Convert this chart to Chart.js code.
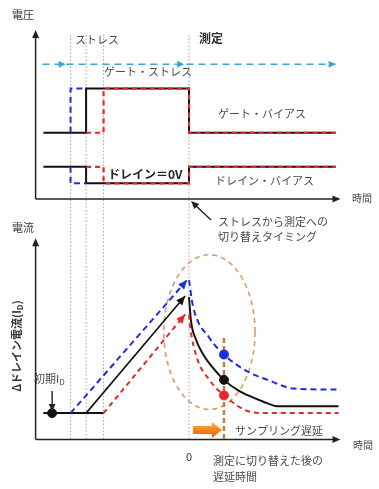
<!DOCTYPE html>
<html>
<head>
<meta charset="utf-8">
<script src="https://cdn.jsdelivr.net/npm/chart.js@4.4.0/dist/chart.umd.min.js"></script>
<style>
  html, body { margin: 0; padding: 0; background: #fff; }
  #wrap { position: relative; width: 379px; height: 489px; }
</style>
</head>
<body>
<div id="wrap"><canvas id="c"></canvas></div>
<script>
/* Stress / measure timing diagram */

// time: 0 = switch from stress to measurement
const stressStart = [-12.2, -10.6, -8.8];     // blue, black, red
const measureT = 0;
const axisT = [-15.8, 15.6];

// upper panel: voltages
const gateBlackT = [-15.0, -10.6, -10.6, 0, 0, 15.1];
const gateBlackV = [6, 6, 10, 10, 6, 6];
const gateBlueT = [-12.2, -12.2, -10.6];
const gateBlueV = [6, 10, 10];
const gateRedT = [-10.6, -8.8, -8.8, 0, 0, 15.1];
const gateRedV = [6, 6, 10, 10, 6, 6];
const drainBlackT = [-15.0, -10.6, -10.6, 0, 0, 15.1];
const drainBlackV = [2.92, 2.92, 1.42, 1.42, 2.92, 2.92];
const drainBlueT = [-12.2, -12.2, -10.6];
const drainBlueV = [2.92, 1.42, 1.42];
const drainRedT = [-10.6, -8.8, -8.8, 0, 0, 15.1];
const drainRedV = [2.92, 2.92, 1.42, 1.42, 2.92, 2.92];
const sweepT = [-15.1, 15.1];
const sweepV = [12.21, 12.21];
const sweepArrowT = [-12.7, -0.5, 15.1];
const voltTop = 15.3;

// lower panel: drain current
const baseT = [-15.0, -8.8];
const baseI = [1, 1];
const initT = [-14.1];
const initI = [1];
const rampBlueT = [-12.2, -0.2];
const rampBlueI = [1, 6.04];
const rampBlackT = [-10.6, -0.4];
const rampBlackI = [1, 5.44];
const rampRedT = [-8.8, -0.4];
const rampRedI = [1, 4.74];
const decayBlueT = [0, 0.4, 2.1, 3.6, 6.1, 8.1, 10.8, 15.4];
const decayBlueI = [6.04, 5.07, 3.85, 3.22, 2.56, 2.26, 1.93, 1.89];
const decayBlackT = [0, 0.2, 0.7, 1.5, 2.4, 3.6, 5.1, 6.1, 7.6, 9.1, 15.4];
const decayBlackI = [5.4, 4.5, 3.8, 3.2, 2.74, 2.26, 1.85, 1.67, 1.44, 1.26, 1.26];
const decayRedT = [0, 0.1, 0.8, 2.1, 3.6, 6.1, 7.8, 15.4];
const decayRedI = [4.74, 4.33, 3.11, 2.26, 1.67, 1.07, 1.0, 1.0];
const sampleT = 3.6;
const sampleI = [3.22, 2.26, 1.67];           // blue, black, red
const currTop = 7.63;
const ellipseC = [2.1, 4.07];
const ellipseR = [4.7, 2.93];

const BLUE = '#1f2de0', RED = '#e8262a', BLACK = '#111', CYAN = '#3fa3d6';
const ORANGE = '#cf7a3c', TAN = '#dc9a68', TXT = '#4a4a4a';
const JP = '"Noto Sans CJK JP", "Noto Sans", sans-serif';

const pts = (xs, ys) => xs.map((x, i) => ({ x, y: ys[i] }));

function line(xs, ys, axis, color, dash, extra) {
  return Object.assign({
    data: pts(xs, ys), yAxisID: axis, borderColor: color, backgroundColor: color,
    borderWidth: 2, borderDash: dash || [], pointRadius: 0, tension: 0, fill: false
  }, extra || {});
}
function dots(xs, ys, color, r) {
  return { data: pts(xs, ys), yAxisID: 'yI', showLine: false, pointRadius: r,
    pointBackgroundColor: color, pointBorderColor: color, borderColor: color };
}

const smooth = { cubicInterpolationMode: 'monotone' };

// listed bottom-to-top, reversed below since Chart.js paints the first dataset last
const layers = [
  line(sweepT, sweepV, 'yV', CYAN, [7, 5], { borderWidth: 1.6 }),
  line(gateBlackT, gateBlackV, 'yV', BLACK),
  line(gateBlueT, gateBlueV, 'yV', BLUE, [6, 4]),
  line(gateRedT, gateRedV, 'yV', RED, [5, 4], { borderWidth: 2.2 }),
  line(drainBlackT, drainBlackV, 'yV', BLACK),
  line(drainBlueT, drainBlueV, 'yV', BLUE, [6, 4]),
  line(drainRedT, drainRedV, 'yV', RED, [5, 4], { borderWidth: 2.2 }),
  line(baseT, baseI, 'yI', BLACK),
  line(rampBlueT, rampBlueI, 'yI', BLUE, [6, 4], { arrowEnd: true }),
  line(rampBlackT, rampBlackI, 'yI', BLACK, [], { arrowEnd: true, borderWidth: 1.6 }),
  line(rampRedT, rampRedI, 'yI', RED, [5, 4], { arrowEnd: true }),
  line(decayBlueT, decayBlueI, 'yI', BLUE, [6, 4], smooth),
  line(decayBlackT, decayBlackI, 'yI', BLACK, [], smooth),
  line(decayRedT, decayRedI, 'yI', RED, [5, 4], smooth),
  dots(initT, initI, BLACK, 4.5),
  dots([sampleT], [sampleI[0]], BLUE, 4.5),
  dots([sampleT], [sampleI[1]], BLACK, 4.5),
  dots([sampleT], [sampleI[2]], RED, 4.5)
];
const datasets = layers.slice().reverse();

function head(ctx, x0, y0, x1, y1, len, wid, color) {
  const a = Math.atan2(y1 - y0, x1 - x0);
  ctx.save();
  ctx.translate(x1, y1);
  ctx.rotate(a);
  ctx.fillStyle = color;
  ctx.beginPath();
  ctx.moveTo(0, 0);
  ctx.lineTo(-len, wid / 2);
  ctx.lineTo(-len, -wid / 2);
  ctx.closePath();
  ctx.fill();
  ctx.restore();
}

function seg(ctx, x0, y0, x1, y1, color, w, dash) {
  ctx.save();
  ctx.strokeStyle = color;
  ctx.lineWidth = w;
  ctx.setLineDash(dash || []);
  ctx.beginPath();
  ctx.moveTo(x0, y0);
  ctx.lineTo(x1, y1);
  ctx.stroke();
  ctx.restore();
}

function text(ctx, s, x, y, font, color, align) {
  ctx.font = font;
  ctx.fillStyle = color || TXT;
  ctx.textAlign = align || 'left';
  ctx.textBaseline = 'middle';
  ctx.fillText(s, x, y);
}

// text with subscript: pre + sub + post
function subText(ctx, pre, sub, post, x, y, size, color, bold, center) {
  const f = (bold ? 'bold ' : '') + size + 'px ' + JP;
  const fs = (bold ? 'bold ' : '') + Math.round(size * 0.7) + 'px ' + JP;
  ctx.font = f; const w1 = ctx.measureText(pre).width; const w3 = ctx.measureText(post).width;
  ctx.font = fs; const w2 = ctx.measureText(sub).width;
  let x0 = center ? x - (w1 + w2 + w3) / 2 : x;
  ctx.fillStyle = color; ctx.textAlign = 'left'; ctx.textBaseline = 'middle';
  ctx.font = f; ctx.fillText(pre, x0, y);
  ctx.font = fs; ctx.fillText(sub, x0 + w1, y + size * 0.25);
  ctx.font = f; ctx.fillText(post, x0 + w1 + w2, y);
}

const decor = {
  id: 'decor',
  beforeDatasetsDraw(chart) {
    const { ctx, scales: { x, yV, yI } } = chart;
    const X = t => x.getPixelForValue(t);
    // event guide lines
    [...stressStart, measureT].forEach(t => {
      seg(ctx, X(t), 35, X(t), yI.getPixelForValue(0), '#a5a5a5', 1, [1.5, 2]);
    });
    // axes
    const axes = [[yV, voltTop], [yI, currTop]];
    axes.forEach(([s, top]) => {
      const y0 = s.getPixelForValue(0);
      const yt = s.getPixelForValue(top);
      seg(ctx, X(axisT[0]), y0, X(axisT[0]), yt + 4, '#222', 1.5);
      head(ctx, X(axisT[0]), y0, X(axisT[0]), yt, 8, 7, '#222');
      seg(ctx, X(axisT[0]), y0, X(axisT[1]) - 4, y0, '#222', 1.5);
      head(ctx, X(axisT[0]), y0, X(axisT[1]), y0, 8, 7, '#222');
    });
    // region of interest
    ctx.save();
    ctx.strokeStyle = TAN;
    ctx.lineWidth = 1.6;
    ctx.setLineDash([5, 4]);
    const cx = X(ellipseC[0]), cy = yI.getPixelForValue(ellipseC[1]);
    const rx = X(ellipseC[0] + ellipseR[0]) - cx;
    const ry = cy - yI.getPixelForValue(ellipseC[1] + ellipseR[1]);
    ctx.beginPath();
    ctx.ellipse(cx, cy, rx, ry, 0, 0, Math.PI * 2);
    ctx.stroke();
    ctx.restore();
    // sampling line
    seg(ctx, X(sampleT), yI.getPixelForValue(3.85), X(sampleT), yI.getPixelForValue(0), ORANGE, 2.5, [5, 3]);
  },
  afterDatasetsDraw(chart) {
    const { ctx, scales: { x, yV, yI } } = chart;
    const X = t => x.getPixelForValue(t);
    // arrowheads at ramp ends
    chart.data.datasets.forEach((ds, i) => {
      if (!ds.arrowEnd) return;
      const m = chart.getDatasetMeta(i).data;
      const a = m[m.length - 2], b = m[m.length - 1];
      head(ctx, a.x, a.y, b.x, b.y, 9, 8, ds.borderColor);
    });
    // sweep arrowheads
    const ys = yV.getPixelForValue(sweepV[0]);
    sweepArrowT.forEach(t => head(ctx, X(t) - 5, ys, X(t), ys, 7, 7, CYAN));

    // upper panel labels
    text(ctx, '電圧', 23, 15, '11px ' + JP, '#333', 'center');
    text(ctx, 'ストレス', 75, 40, '11px ' + JP, TXT);
    text(ctx, '測定', 199, 38, 'bold 12px ' + JP, '#333');
    text(ctx, 'ゲート・ストレス', 104, 72, '11px ' + JP, TXT);
    text(ctx, 'ゲート・バイアス', 218, 114, '11px ' + JP, TXT);
    text(ctx, 'ドレイン＝0V', 108, 174, 'bold 12px ' + JP, '#222');
    text(ctx, 'ドレイン・バイアス', 215, 181, '11px ' + JP, TXT);
    text(ctx, '時間', 352, 198, '10px ' + JP, TXT);

    // switch timing callout
    const sx = X(measureT), sy = yV.getPixelForValue(0);
    seg(ctx, sx + 22, sy + 21, sx + 5, sy + 5, '#222', 1.4);
    head(ctx, sx + 22, sy + 21, sx + 2, sy + 2, 8, 7, '#222');
    text(ctx, 'ストレスから測定への', 218, 222, '11px ' + JP, TXT);
    text(ctx, '切り替えタイミング', 218, 237, '11px ' + JP, TXT);

    // lower panel labels
    text(ctx, '電流', 23, 228, '11px ' + JP, '#333', 'center');
    ctx.save();
    ctx.translate(17, 346);
    ctx.rotate(-Math.PI / 2);
    subText(ctx, 'Δドレイン電流(I', 'D', ')', 0, 0, 11, '#333', true, true);
    ctx.restore();
    subText(ctx, '初期I', 'D', '', 34, 379, 11, TXT, false, false);
    const ix = X(initT[0]);
    seg(ctx, ix, 391, ix, 405, '#222', 1.4);
    head(ctx, ix, 391, ix, 411, 7, 7, '#222');
    text(ctx, '0', X(measureT), 457, '11px ' + JP, '#333', 'center');
    text(ctx, '時間', 353, 445, '10px ' + JP, TXT);
    text(ctx, 'サンプリング遅延', 235, 431, '11px ' + JP, TXT);
    text(ctx, '測定に切り替えた後の', 213, 461, '11px ' + JP, TXT);
    text(ctx, '遅延時間', 213, 477, '11px ' + JP, TXT);

    // orange delay arrow
    const ay = 430;
    const g = ctx.createLinearGradient(0, ay - 8, 0, ay + 8);
    g.addColorStop(0, '#ffb040');
    g.addColorStop(1, '#e85e00');
    ctx.save();
    ctx.fillStyle = g;
    ctx.beginPath();
    ctx.moveTo(193, ay - 4);
    ctx.lineTo(212, ay - 4);
    ctx.lineTo(212, ay - 8);
    ctx.lineTo(222, ay);
    ctx.lineTo(212, ay + 8);
    ctx.lineTo(212, ay + 4);
    ctx.lineTo(193, ay + 4);
    ctx.closePath();
    ctx.fill();
    ctx.restore();
  }
};

// scale limits so panel origins sit at fixed pixel rows
const W = 379, H = 489;
const pxPerT = 10, tZero = 189;
const pxPerV = 11.3, vZero = 198;
const pxPerI = 27, iZero = 444;

new Chart(document.getElementById('c'), {
  type: 'line',
  data: { datasets },
  options: {
    responsive: true,
    maintainAspectRatio: false,
    animation: false,
    layout: { padding: 0 },
    plugins: { legend: { display: false }, tooltip: { enabled: false } },
    scales: {
      x: { type: 'linear', display: false, min: -tZero / pxPerT, max: (W - tZero) / pxPerT },
      yV: { type: 'linear', display: false, min: -(H - vZero) / pxPerV, max: vZero / pxPerV },
      yI: { type: 'linear', display: false, min: -(H - iZero) / pxPerI, max: iZero / pxPerI }
    }
  },
  plugins: [decor]
});
</script>
</body>
</html>
